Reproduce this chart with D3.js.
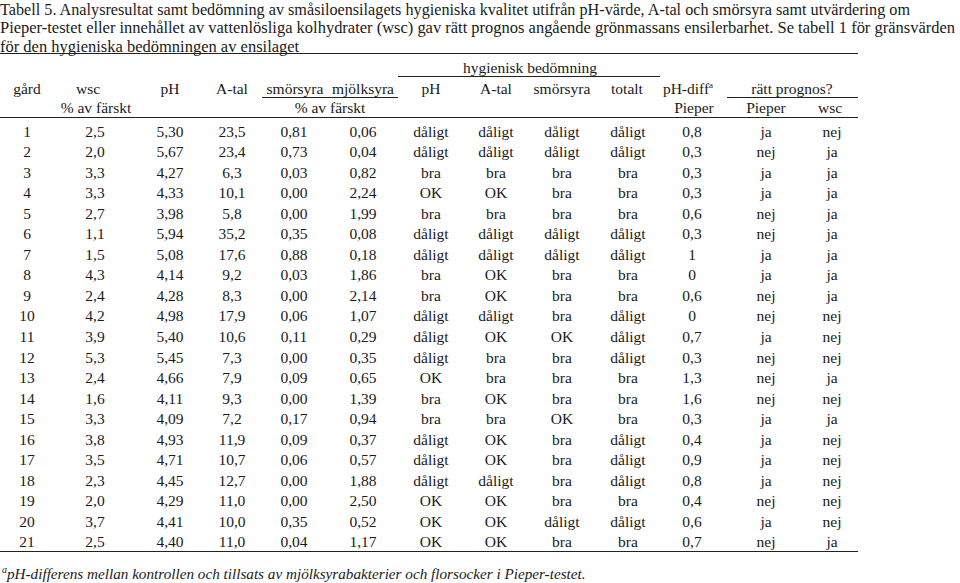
<!DOCTYPE html>
<html>
<head>
<meta charset="utf-8">
<script src="https://cdn.jsdelivr.net/npm/d3@7/dist/d3.min.js"></script>
<style>
  html, body { margin: 0; padding: 0; background: #fff; }
  svg { display: block; }
  text { font-family: "Liberation Serif", "Times New Roman", serif; fill: #1a1a1a; }
</style>
</head>
<body>
<svg id="chart" width="960" height="583"></svg>
<script>
// ---------- DATA ----------
const titleLines = [
  "Tabell 5. Analysresultat samt bedömning av småsiloensilagets hygieniska kvalitet utifrån pH-värde, A-tal och smörsyra samt utvärdering om",
  "Pieper-testet eller innehållet av vattenlösliga kolhydrater (wsc) gav rätt prognos angående grönmassans ensilerbarhet. Se tabell 1 för gränsvärden",
  "för den hygieniska bedömningen av ensilaget"
];
const groupHeader = "hygienisk bedömning";
const columnHeaders = ["gård", "wsc", "pH", "A-tal", "smörsyra", "mjölksyra", "pH", "A-tal", "smörsyra", "totalt", "pH-diff", "rätt prognos?"];
const unitHeaders = ["% av färskt", "% av färskt", "Pieper", "Pieper", "wsc"];
const footnote = "pH-differens mellan kontrollen och tillsats av mjölksyrabakterier och florsocker i Pieper-testet.";

const gard      = ["1","2","3","4","5","6","7","8","9","10","11","12","13","14","15","16","17","18","19","20","21"];
const wsc       = ["2,5","2,0","3,3","3,3","2,7","1,1","1,5","4,3","2,4","4,2","3,9","5,3","2,4","1,6","3,3","3,8","3,5","2,3","2,0","3,7","2,5"];
const pH        = ["5,30","5,67","4,27","4,33","3,98","5,94","5,08","4,14","4,28","4,98","5,40","5,45","4,66","4,11","4,09","4,93","4,71","4,45","4,29","4,41","4,40"];
const aTal      = ["23,5","23,4","6,3","10,1","5,8","35,2","17,6","9,2","8,3","17,9","10,6","7,3","7,9","9,3","7,2","11,9","10,7","12,7","11,0","10,0","11,0"];
const smorsyra  = ["0,81","0,73","0,03","0,00","0,00","0,35","0,88","0,03","0,00","0,06","0,11","0,00","0,09","0,00","0,17","0,09","0,06","0,00","0,00","0,35","0,04"];
const mjolksyra = ["0,06","0,04","0,82","2,24","1,99","0,08","0,18","1,86","2,14","1,07","0,29","0,35","0,65","1,39","0,94","0,37","0,57","1,88","2,50","0,52","1,17"];
const hygPH     = ["dåligt","dåligt","bra","OK","bra","dåligt","dåligt","bra","bra","dåligt","dåligt","dåligt","OK","bra","bra","dåligt","dåligt","dåligt","OK","OK","OK"];
const hygATal   = ["dåligt","dåligt","bra","OK","bra","dåligt","dåligt","OK","OK","dåligt","OK","bra","bra","OK","bra","OK","OK","dåligt","OK","OK","OK"];
const hygSmor   = ["dåligt","dåligt","bra","bra","bra","dåligt","dåligt","bra","bra","bra","OK","bra","bra","bra","OK","bra","bra","bra","bra","dåligt","bra"];
const hygTotalt = ["dåligt","dåligt","bra","bra","bra","dåligt","dåligt","bra","bra","dåligt","dåligt","dåligt","bra","bra","bra","dåligt","dåligt","dåligt","bra","dåligt","bra"];
const phDiff    = ["0,8","0,3","0,3","0,3","0,6","0,3","1","0","0,6","0","0,7","0,3","1,3","1,6","0,3","0,4","0,9","0,8","0,4","0,6","0,7"];
const rattPieper= ["ja","nej","ja","ja","nej","nej","ja","ja","nej","nej","ja","nej","nej","nej","ja","ja","ja","ja","nej","ja","nej"];
const rattWsc   = ["nej","ja","ja","ja","ja","ja","ja","ja","ja","nej","nej","nej","ja","nej","ja","nej","nej","nej","nej","nej","ja"];

const columns = [gard, wsc, pH, aTal, smorsyra, mjolksyra, hygPH, hygATal, hygSmor, hygTotalt, phDiff, rattPieper, rattWsc];

// ---------- LAYOUT ----------
const svg = d3.select("#chart");
const FS = 15.5;
const colKeys = d3.range(columns.length);
const colX = d3.scaleOrdinal().domain(colKeys)
  .range([27, 95, 170, 232, 294, 363, 431, 496, 562, 628, 692, 766, 832]);
const rowY = d3.scalePoint().domain(gard).range([136.7, 547.3]);
const tableRight = 858;

// title
const titleWidths = [910, 955, null];
svg.append("g").selectAll("text").data(titleLines).join("text")
  .attr("x", 0)
  .attr("y", (d, i) => 14.5 + i * 18.5)
  .attr("font-size", 16.5)
  .each(function(d, i) {
    if (titleWidths[i]) d3.select(this).attr("textLength", titleWidths[i]).attr("lengthAdjust", "spacingAndGlyphs");
  })
  .text(d => d);

// rules
const rules = [
  {x1: 0, x2: tableRight, y: 53.5},
  {x1: 398, x2: 660, y: 76.5},
  {x1: 262, x2: 398, y: 97.5},
  {x1: 727, x2: tableRight, y: 97.5},
  {x1: 0, x2: tableRight, y: 117.5},
  {x1: 0, x2: tableRight, y: 551.5}
];
svg.append("g").selectAll("line").data(rules).join("line")
  .attr("x1", d => d.x1).attr("x2", d => d.x2)
  .attr("y1", d => d.y).attr("y2", d => d.y)
  .attr("stroke", "#222").attr("stroke-width", 1);

// group header
svg.append("text").attr("x", 530).attr("y", 73).attr("font-size", FS)
  .attr("text-anchor", "middle").text(groupHeader);

// column headers
const headerX = [27, 88, 170, 232, 295, 363, 431, 496, 562, 627, 688, 792];
const hdr = svg.append("g").selectAll("text").data(columnHeaders).join("text")
  .attr("x", (d, i) => headerX[i])
  .attr("y", 94)
  .attr("font-size", FS)
  .attr("text-anchor", "middle");
hdr.each(function(d) {
  const t = d3.select(this);
  t.append("tspan").text(d);
  if (d === "pH-diff") {
    t.append("tspan").attr("dy", -6).attr("font-size", 9).text("a");
  }
});

// units row
const unitX = [96, 330, 694, 766, 830];
svg.append("g").selectAll("text").data(unitHeaders).join("text")
  .attr("x", (d, i) => unitX[i])
  .attr("y", 113)
  .attr("font-size", FS)
  .attr("text-anchor", "middle")
  .text(d => d);

// body cells
const body = svg.append("g");
columns.forEach((col, ci) => {
  body.append("g").selectAll("text").data(col).join("text")
    .attr("x", colX(ci))
    .attr("y", (d, ri) => rowY(gard[ri]))
    .attr("font-size", FS)
    .attr("text-anchor", "middle")
    .text(d => d);
});

// footnote
const fn = svg.append("text").attr("x", 2).attr("y", 579).attr("font-size", 15.2).attr("font-style", "italic");
fn.append("tspan").attr("font-size", 10).attr("dy", -6).text("a");
fn.append("tspan").attr("dy", 6).text(footnote);
</script>
</body>
</html>
